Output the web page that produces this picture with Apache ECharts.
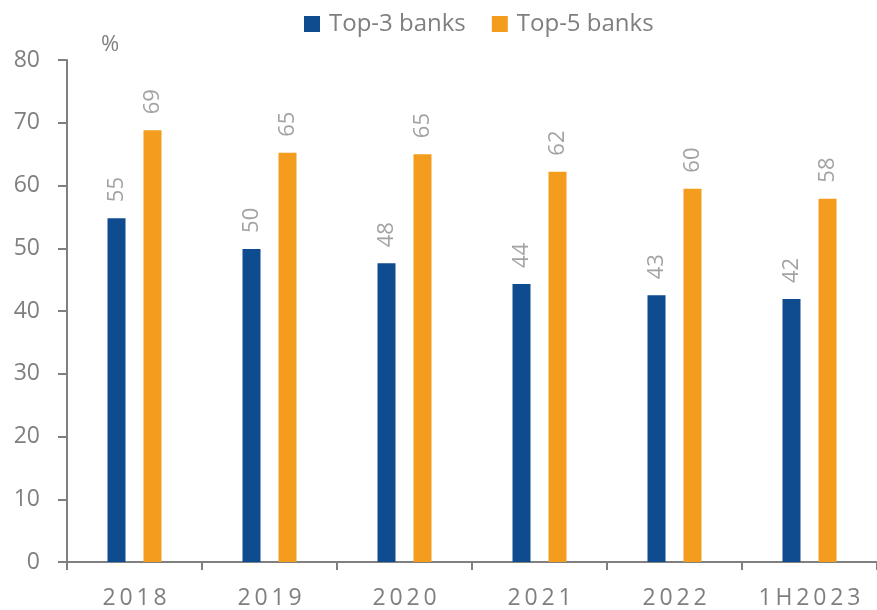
<!DOCTYPE html>
<html>
<head>
<meta charset="utf-8">
<script src="https://cdn.jsdelivr.net/npm/echarts@6/dist/echarts.min.js"></script>
<style>
  html, body { margin: 0; padding: 0; background: #ffffff; }
  #chart { width: 877px; height: 610px; }
</style>
</head>
<body>
<div id="chart"></div>
<script>
// Market share of the largest banks, %
const categories = ['2018', '2019', '2020', '2021', '2022', '1H2023'];
const top3Values = [54.8, 49.9, 47.6, 44.3, 42.5, 41.9];
const top5Values = [68.8, 65.2, 65.0, 62.2, 59.5, 57.9];
const seriesNames = ['Top-3 banks', 'Top-5 banks'];

const FONT = '"Open Sans", "DejaVu Sans", sans-serif';
const AXIS_GREY = '#808080';
const TEXT_GREY = '#7f7f7f';
const LABEL_GREY = '#a3a3a3';

// Spread the year labels a little, like tracked-out axis text
const spaced = s => s.split('').join('\u2009');

const valueLabel = {
  show: true,
  position: 'top',
  rotate: 90,
  align: 'left',
  verticalAlign: 'middle',
  distance: 16,
  color: LABEL_GREY,
  fontFamily: FONT,
  fontSize: 22,
  formatter: p => Math.round(p.value)
};

const chart = echarts.init(document.getElementById('chart'), null, { renderer: 'canvas' });
chart.setOption({
  animation: false,
  backgroundColor: '#ffffff',
  title: {
    text: '%',
    left: 96,
    top: 29,
    textStyle: { color: TEXT_GREY, fontFamily: FONT, fontSize: 22, fontWeight: 'normal' }
  },
  legend: {
    left: 304,
    top: 12,
    padding: 0,
    itemWidth: 16,
    itemHeight: 16,
    itemGap: 26,
    icon: 'rect',
    textStyle: { color: TEXT_GREY, fontFamily: FONT, fontSize: 24, padding: [0, 0, 0, 4] },
    data: seriesNames
  },
  grid: { left: 67, top: 60, width: 813, bottom: 47, containLabel: false },
  xAxis: {
    type: 'category',
    data: categories,
    axisLine: { show: true, lineStyle: { color: AXIS_GREY, width: 2 } },
    axisTick: { show: true, length: 8, lineStyle: { color: AXIS_GREY, width: 2 } },
    axisLabel: {
      color: TEXT_GREY,
      fontFamily: FONT,
      fontSize: 23,
      margin: 25,
      formatter: v => spaced(v)
    }
  },
  yAxis: {
    type: 'value',
    min: 0,
    max: 80,
    interval: 10,
    splitLine: { show: false },
    axisLine: { show: true, lineStyle: { color: AXIS_GREY, width: 2 } },
    axisTick: { show: true, length: 9, lineStyle: { color: AXIS_GREY, width: 2 } },
    axisLabel: { color: TEXT_GREY, fontFamily: FONT, fontSize: 23, margin: 27 }
  },
  series: [
    {
      name: seriesNames[0],
      type: 'bar',
      data: top3Values,
      barWidth: 18,
      barGap: '100%',
      itemStyle: { color: '#0f4c8f' },
      label: valueLabel
    },
    {
      name: seriesNames[1],
      type: 'bar',
      data: top5Values,
      barWidth: 18,
      barGap: '100%',
      itemStyle: { color: '#f39c1e' },
      label: valueLabel
    }
  ]
});
</script>
</body>
</html>
